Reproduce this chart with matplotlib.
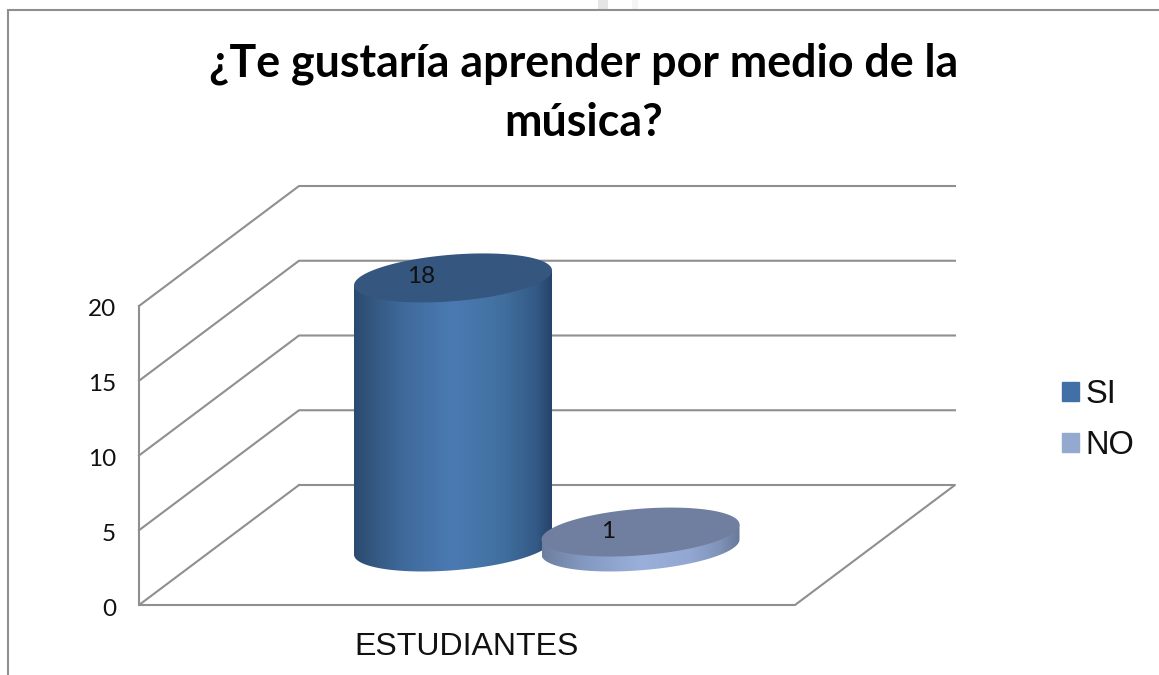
import numpy as np
import matplotlib
matplotlib.use('Agg')
import matplotlib.pyplot as plt
from matplotlib.colors import LinearSegmentedColormap
from matplotlib.patches import Patch, Polygon

title = '¿Te gustaría aprender por medio de la\nmúsica?'
category = 'ESTUDIANTES'
series = ['SI', 'NO']
values = [18, 1]
y_ticks = [0, 5, 10, 15, 20]

W, H = 1159, 675
GRAY = '#8f8f8f'
PX_PER_UNIT = 14.95           # vertical pixels for one unit of the value axis
Y0 = 605                      # pixel row of value 0 on the front wall


def v2y(v):
    return Y0 - v * PX_PER_UNIT


fig = plt.figure(figsize=(W / 100, H / 100), dpi=100)
ax = fig.add_axes([0, 0, 1, 1])
ax.axis('off')

# outer frame of the chart area, only top and left are visible
ax.plot([8, 8, W], [H, 10, 10], color=GRAY, lw=1.5, solid_joinstyle='miter')
# faint scan smudge above the frame
ax.axvspan(598, 608, ymin=1 - 10 / H, ymax=1, color='#e6e6e6', lw=0)
ax.axvspan(632, 638, ymin=1 - 10 / H, ymax=1, color='#f5f5f5', lw=0)

# back wall, side wall and floor
x_front, x_right, dx, dy = 139, 795, 160, 120
for v in y_ticks[1:]:
    y = v2y(v)
    ax.plot([x_front, x_front + dx, x_right + dx], [y, y - dy, y - dy], color=GRAY, lw=1.5)
y = v2y(0)
ax.plot([x_front + dx, x_front, x_right, x_right + dx, x_front + dx],
        [y - dy, y, y, y - dy, y - dy], color=GRAY, lw=1.5)
ax.plot([x_front, x_front], [v2y(0), v2y(20)], color=GRAY, lw=1.5)

for v in y_ticks:
    ax.text(116, v2y(v) + 4, str(v), ha='right', va='center', fontsize=17.5,
            family='Lato', color='#111111')


def cylinder(xc, value, side_colors, top_color):
    a, skew, b = 99, 7.5, 23.3
    t = np.linspace(0, 2 * np.pi, 200)
    yb = 547
    yt = yb - value * PX_PER_UNIT
    ex = xc + a * np.cos(t)
    ey = -skew * np.cos(t) + b * np.sin(t)

    # body outline: bottom half of the lower ellipse, up to the top ellipse
    lower = np.linspace(0, np.pi, 100)
    bx = xc + a * np.cos(lower)
    by = yb - skew * np.cos(lower) + b * np.sin(lower)
    body_x = np.r_[bx, xc - a, xc + a]
    body_y = np.r_[by, yt + skew, yt - skew]
    body = Polygon(np.c_[body_x, body_y], closed=True, fc='none', ec='none')
    ax.add_patch(body)
    cmap = LinearSegmentedColormap.from_list('side', side_colors)
    im = ax.imshow(np.linspace(0, 1, 256)[None, :], cmap=cmap, aspect='auto',
                   extent=[xc - a, xc + a, yb + b + skew, yt - skew], zorder=2)
    im.set_clip_path(body)
    ax.fill(ex, yt + ey, color=top_color, zorder=3, lw=0)
    return yt


side_si = [(0, '#2b4a70'), (0.1, '#345880'), (0.25, '#3f6a9c'), (0.5, '#4b7ab3'),
           (0.75, '#41709f'), (0.92, '#345a86'), (1, '#26436a')]
side_no = [(0, '#6d7f9f'), (0.2, '#8398bf'), (0.5, '#9ab0da'), (0.75, '#92a8d2'),
           (0.9, '#7f92b8'), (1, '#687a98')]
yt_si = cylinder(453, values[0], side_si, '#34567f')
yt_no = cylinder(640.5, values[1], side_no, '#707f9f')

ax.text(421.5, yt_si - 1, str(values[0]), ha='center', va='center', fontsize=17.5,
        family='Lato', color='#111111', zorder=5)
ax.text(608, yt_no - 1, str(values[1]), ha='center', va='center', fontsize=17.5,
        family='Lato', color='#111111', zorder=5)

ax.text(467, 647, category, ha='center', va='center', fontsize=23,
        family='Liberation Sans', color='#111111')
ax.text(584, 93, title, ha='center', va='center', fontsize=32.2, fontweight='bold',
        family='Lato', color='black', linespacing=1.5)

handles = [Patch(color='#416fa6', label=series[0]), Patch(color='#93a9cf', label=series[1])]
ax.legend(handles=handles, loc='center left', bbox_to_anchor=(1062 / W, 1 - 420 / H),
          frameon=False, handlelength=0.53, handleheight=0.53, handletextpad=0.18,
          labelspacing=0.62, borderpad=0, borderaxespad=0,
          prop={'family': 'Liberation Sans', 'size': 23.5}, labelcolor='#111111')

ax.set_xlim(0, W)
ax.set_ylim(H, 0)

fig.savefig('out.png', dpi=100)
